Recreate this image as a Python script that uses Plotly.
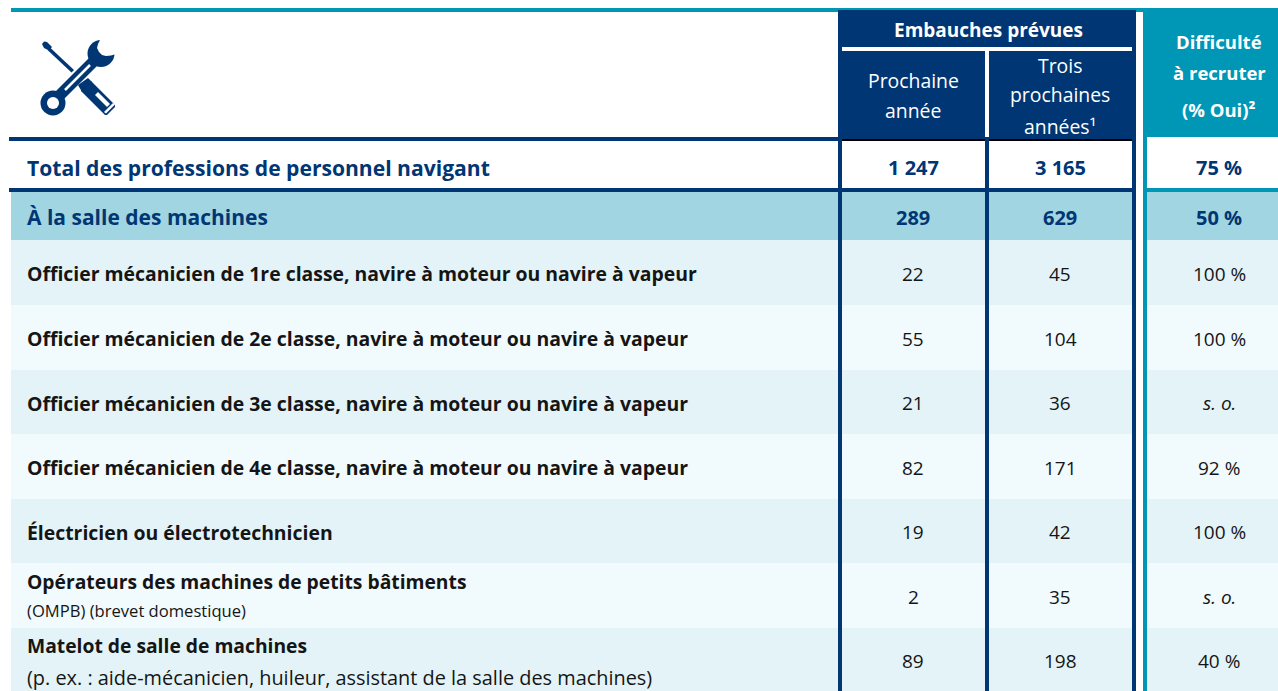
import plotly.graph_objects as go

NAVY = "#003673"
TEAL = "#0096B6"
SECTION = "#A0D5E1"
LIGHT = "#E3F3F7"
LIGHTER = "#F1FAFC"
INK = "#151515"

group_header = "Embauches prévues"
next_year = ["Prochaine", "année"]
three_years = ["Trois", "prochaines", "années¹"]
difficulty = ["Difficulté", "à recruter", "(% Oui)²"]

total_label = "Total des professions de personnel navigant"
total_values = ["1 247", "3 165", "75 %"]
section_label = "À la salle des machines"
section_values = ["289", "629", "50 %"]

occupations = [
    "Officier mécanicien de 1re classe, navire à moteur ou navire à vapeur",
    "Officier mécanicien de 2e classe, navire à moteur ou navire à vapeur",
    "Officier mécanicien de 3e classe, navire à moteur ou navire à vapeur",
    "Officier mécanicien de 4e classe, navire à moteur ou navire à vapeur",
    "Électricien ou électrotechnicien",
    "Opérateurs des machines de petits bâtiments",
    "Matelot de salle de machines",
]
occupation_notes = [None, None, None, None, None,
                    "(OMPB) (brevet domestique)",
                    "(p. ex. : aide-mécanicien, huileur, assistant de la salle des machines)"]
note_sizes = [0, 0, 0, 0, 0, 16.6, 19.9]
hires_next = ["22", "55", "21", "82", "19", "2", "89"]
hires_three = ["45", "104", "36", "171", "42", "35", "198"]
hard_to_fill = ["100 %", "100 %", "s. o.", "92 %", "100 %", "s. o.", "40 %"]

row_edges = [240, 305, 370, 434, 499, 563, 628, 691]
col_centers = [913, 1060, 1219]
FONT = "Open Sans"

shapes, ann = [], []


def rect(x0, y0, x1, y1, c):
    shapes.append(dict(type="rect", x0=x0, y0=y0, x1=x1, y1=y1, fillcolor=c,
                       line=dict(width=0), layer="below"))


def poly(pts, c):
    path = "M" + " L".join(f"{x},{y}" for x, y in pts) + " Z"
    shapes.append(dict(type="path", path=path, fillcolor=c, line=dict(width=0), layer="below"))


def disc(cx, cy, r, c):
    shapes.append(dict(type="circle", x0=cx - r, y0=cy - r, x1=cx + r, y1=cy + r,
                       fillcolor=c, line=dict(width=0), layer="below"))


def text(x, y, s, size, color=INK, anchor="center", weight="normal", style="normal"):
    ann.append(dict(x=x, y=y, text=s, showarrow=False, xanchor=anchor, yanchor="middle",
                    align=anchor,
                    font=dict(family=FONT, size=size, color=color, weight=weight, style=style)))


# row bands
rect(11, 192, 1278, 240, SECTION)
for i in range(len(occupations)):
    rect(11, row_edges[i], 1278, row_edges[i + 1], LIGHT if i % 2 == 0 else LIGHTER)

# header blocks
rect(11, 8, 1278, 12, TEAL)
rect(838, 10, 1136, 139, NAVY)
rect(1136, 12, 1143, 691, "#FFFFFF")
rect(1143, 12, 1278, 137, TEAL)
rect(842, 47, 1132, 51, "#FFFFFF")
rect(985, 51, 989, 139, "#FFFFFF")

# vertical rules
rect(838, 139, 842, 691, NAVY)
rect(985, 139, 989, 691, NAVY)
rect(1132, 139, 1136, 691, NAVY)
rect(1143, 137, 1147, 691, TEAL)

# horizontal rules
rect(9, 137, 1136, 141, NAVY)
rect(842, 139, 985, 141, "#000000")
rect(989, 139, 1132, 141, "#000000")
rect(9, 188, 1136, 192, NAVY)
rect(1147, 188, 1278, 192, TEAL)

# tools icon: screwdriver
poly([(42, 44), (44, 41.5), (47, 42), (52, 47), (49, 50.5), (44, 48)], NAVY)
poly([(50, 47.5), (74, 70), (71.5, 72.5), (47.5, 50)], NAVY)
poly([(78, 85), (88, 78), (92, 82), (82, 92)], NAVY)
poly([(91, 81), (115, 105), (115, 107), (107, 115), (105, 115), (81, 91)], NAVY)
poly([(98, 92), (110, 104), (107, 107), (95, 95)], "#FFFFFF")
poly([(104, 112), (113, 103), (115, 104.5), (106, 113.5)], "#FFFFFF")
# tools icon: wrench
poly([(53, 94), (92, 55), (100, 63), (61, 102)], NAVY)
disc(53, 103, 12.5, NAVY)
disc(53, 103, 6, "#FFFFFF")
disc(101, 53.5, 13.5, NAVY)
poly([(101, 38), (98, 44), (97, 48), (99, 52), (102, 55), (106, 56), (111, 55.5), (116, 54), (122, 38)], "#FFFFFF")
poly([(64.1, 89.1), (89.1, 64.1), (90.9, 65.9), (65.9, 90.9)], "#FFFFFF")

W = "#FFFFFF"
# header text
text(988, 30, group_header, 19, W, weight="bold")
for y, s in zip([80, 110], next_year):
    text(col_centers[0], y, s, 19.4, W)
for y, s in zip([65, 94, 126], three_years):
    text(col_centers[1], y, s, 19.4, W)
for y, s in zip([41, 72, 109], difficulty):
    text(col_centers[2], y, s, 18.5, W, weight="bold")

# total + section rows
text(25, 167, total_label, 21.1, NAVY, "left", "bold")
text(25, 217, section_label, 21, NAVY, "left", "bold")
for x, a, b in zip(col_centers, total_values, section_values):
    text(x, 167, a, 20, NAVY, weight="bold")
    text(x, 217, b, 20, NAVY, weight="bold")

# occupation rows
for i, name in enumerate(occupations):
    mid = (row_edges[i] + row_edges[i + 1]) / 2
    if occupation_notes[i]:
        text(25, mid - 14, name, 19.3, INK, "left", "bold")
        text(25, mid + 18 - (i == 5) * 3, occupation_notes[i], note_sizes[i], INK, "left")
    else:
        text(25, mid + 1, name, 19.4, INK, "left", "bold")
    text(col_centers[0], mid + 1, hires_next[i], 19)
    text(col_centers[1], mid + 1, hires_three[i], 19)
    text(col_centers[2], mid + 1, hard_to_fill[i], 19,
         style="italic" if hard_to_fill[i] == "s. o." else "normal")

fig = go.Figure()
fig.update_layout(
    width=1278, height=691, margin=dict(l=0, r=0, t=0, b=0),
    paper_bgcolor="#FFFFFF", plot_bgcolor="#FFFFFF",
    xaxis=dict(range=[0, 1278], visible=False, fixedrange=True),
    yaxis=dict(range=[691, 0], visible=False, fixedrange=True),
    shapes=shapes, annotations=ann, showlegend=False,
)
fig.write_html("out.html", config=dict(displayModeBar=False),
               post_script="document.body.style.margin='0';document.body.style.overflow='hidden';")
